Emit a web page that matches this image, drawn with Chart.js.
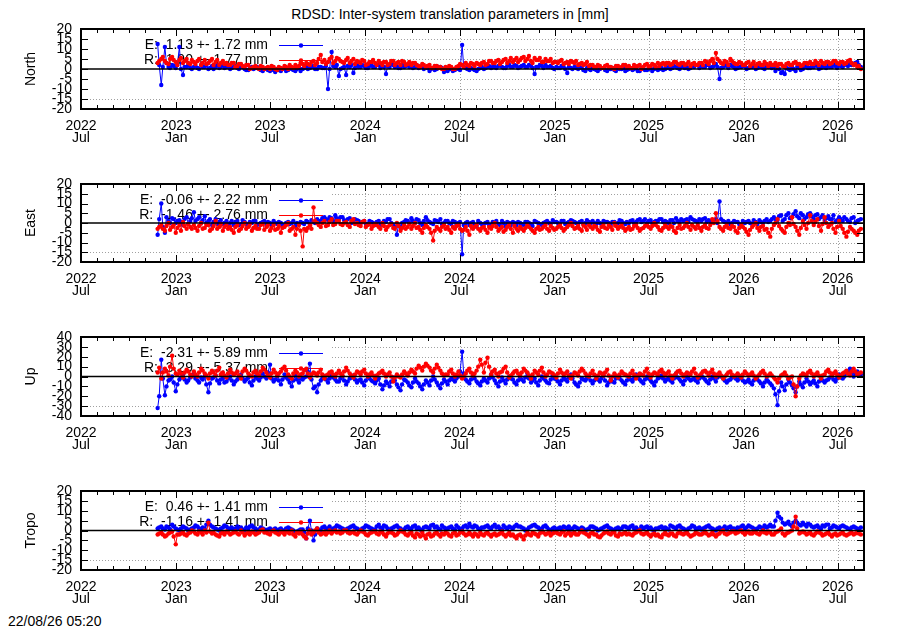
<!DOCTYPE html>
<html><head><meta charset="utf-8">
<script src="https://cdn.jsdelivr.net/npm/chart.js@4/dist/chart.umd.min.js"></script>
<style>
body{margin:0;background:#fff;width:900px;height:630px;position:relative;overflow:hidden;font-family:"Liberation Sans",Arial,sans-serif;color:#000;}
.panel{position:absolute;left:0;width:900px;}
#title{position:absolute;left:0;top:6px;width:900px;text-align:center;font-size:14px;line-height:16px;}
#stamp{position:absolute;left:8px;top:613px;font-size:14px;line-height:16px;}
</style></head><body>
<div id="title">RDSD: Inter-system translation parameters in [mm]</div>
<div class="panel" id="p0"><canvas id="c0"></canvas></div>
<div class="panel" id="p1"><canvas id="c1"></canvas></div>
<div class="panel" id="p2"><canvas id="c2"></canvas></div>
<div class="panel" id="p3"><canvas id="c3"></canvas></div>
<div id="stamp">22/08/26 05:20</div>
<script>
// x values: days since 2022-07-01 (weekly samples and in-between samples)
const days = [
148,155,162,169,176,183,190,197,204,211,
218,225,232,239,246,253,260,267,274,281,
288,295,302,309,316,323,330,337,344,351,
358,365,372,379,386,393,400,407,414,421,
428,435,442,449,456,463,470,477,484,491,
498,505,512,519,526,533,540,547,554,561,
568,575,582,589,596,603,610,617,624,631,
638,645,652,659,666,673,680,687,694,701,
708,715,722,729,736,743,750,757,764,771,
778,785,792,799,806,813,820,827,834,841,
848,855,862,869,876,883,890,897,904,911,
918,925,932,939,946,953,960,967,974,981,
988,995,1002,1009,1016,1023,1030,1037,1044,1051,
1058,1065,1072,1079,1086,1093,1100,1107,1114,1121,
1128,1135,1142,1149,1156,1163,1170,1177,1184,1191,
1198,1205,1212,1219,1226,1233,1240,1247,1254,1261,
1268,1275,1282,1289,1296,1303,1310,1317,1324,1331,
1338,1345,1352,1359,1366,1373,1380,1387,1394,1401,
1408,1415,1422,1429,1436,1443,1450,1457,1464,1471,
1478,1485,1492,1499,1506];
const daysMid = [
151,158,165,172,179,186,193,200,207,214,
221,228,235,242,249,256,263,270,277,284,
291,298,305,312,319,326,333,340,347,354,
361,368,375,382,389,396,403,410,417,424,
431,438,445,452,459,466,473,480,487,494,
501,508,515,522,529,536,543,550,557,564,
571,578,585,592,599,606,613,620,627,634,
641,648,655,662,669,676,683,690,697,704,
711,718,725,732,739,746,753,760,767,774,
781,788,795,802,809,816,823,830,837,844,
851,858,865,872,879,886,893,900,907,914,
921,928,935,942,949,956,963,970,977,984,
991,998,1005,1012,1019,1026,1033,1040,1047,1054,
1061,1068,1075,1082,1089,1096,1103,1110,1117,1124,
1131,1138,1145,1152,1159,1166,1173,1180,1187,1194,
1201,1208,1215,1222,1229,1236,1243,1250,1257,1264,
1271,1278,1285,1292,1299,1306,1313,1320,1327,1334,
1341,1348,1355,1362,1369,1376,1383,1390,1397,1404,
1411,1418,1425,1432,1439,1446,1453,1460,1467,1474,
1481,1488,1495,1502];

const northE = [
12.5,-8,11,1,2,0.5,11,-3,1,0.5,
1,0.5,2,1,0,1.5,1,0.5,2,1,
0,1,0.5,1.5,0,-0.5,1,0.5,0,-1,
0,-1,-0.5,0,-1,0.5,-0.5,0,-1,0.5,
0,1,0.5,1.5,0,1,0.5,-10,8.5,1,
-3.5,0.5,-3,1,-2,2,1,1.5,0.5,2,
1,2,1.5,-2.5,1,2,1.5,0.5,1,2,
1.5,1,0.5,1.5,1,-1,0.5,0,1,-1.5,
-1,0,-0.5,0,12,0.5,-0.5,0,-1,0.5,
0,1,0.5,1,1.5,1,0.5,2,1,1.5,
1,2,1,1.5,-2.5,1,1.5,2,1,0.5,
1,0.5,1,-2,0.5,1,0,0.5,-1,0,
0.5,-0.5,0,0.5,-1,0,-0.5,0.5,0,-1,
0,-0.5,0.5,-1,0,-0.5,0.5,0,-0.5,0.5,
0,1,0.5,1,0,1.5,1,0.5,1,2,
1.5,1,2,1,2.5,-5,1,1.5,2,1,
0.5,1,1.5,0.5,1,0,1,0.5,1.5,1,
1,0.5,-2,-2.5,0,1,-1,0.5,0,1,
0.5,1,1.5,0.5,1,2,1,1.5,2,1,
2.5,3,2,3.5,1];
const northEMid = [
2,1,3,0.5,1.5,2,0,1,2,0,
1.5,0,1,2,0.5,0,2,1,0.5,1.5,
0.5,1.5,0,1,-0.5,0.5,0,1,-0.5,0,
-0.5,0,-1.5,-0.5,0,-1,0.5,-0.5,0,-1,
0.5,0,1,0,1,0.5,1.5,0,1.5,2,
0,1,1.5,2,0.5,1,2,0.5,1.5,1,
2,0.5,1,1.5,2.5,1,0.5,2,1.5,1,
0.5,2,1,0,0.5,0,-0.5,1,0.5,-0.5,
0,-1,0.5,-0.5,1,0,0.5,-0.5,0,1,
0.5,1.5,1,0.5,2,0.5,1.5,1,2,0.5,
1.5,1,2,0.5,1,2,0.5,1,1.5,0,
0.5,1.5,0,1,0,0.5,1,-0.5,0.5,-0.5,
0,-1,0.5,-0.5,0,0.5,-1,0,0.5,-0.5,
0.5,0,-1,0.5,-0.5,0,-1,0.5,0,-0.5,
0.5,0,1.5,0.5,1,0.5,0,1.5,2,0.5,
1,2,0.5,1.5,1,0.5,2,0.5,1.5,0,
1,1.5,0,1,2,0.5,1.5,0,1,0.5,
-1,0,-1.5,0.5,-0.5,0,1,-0.5,1.5,0.5,
1,2,0,1.5,0.5,1,2.5,0.5,1.5,2,
1.5,2,3,2];
const northR = [
3,5,4,2.5,6,3.5,4.5,3,5,2.5,
3.5,4,2,4.5,3,5,3.5,2,4,3,
2,3,1.5,2.5,1,2,0.5,1.5,0,1,
0.5,0,1,-0.5,0.5,1.5,0,1,2,1.5,
2.5,3,2,4,3,7,4.5,3.5,6,4,
5,3.5,4.5,3,5,4,3,4,2.5,3.5,
3,4,2,3.5,2.5,4,3,2,3.5,2.5,
2,3,1.5,2.5,1,2,0.5,1.5,1,0,
0.5,1,0,1.5,2,3,1.5,2.5,3,2,
3.5,2.5,4,3,4.5,3.5,5,4,3.5,5.5,
4.5,6,5,4,5.5,4.5,3.5,5,4,3,
3.5,4,2.5,3.5,4,3,2,3,2.5,1.5,
2,1,1.5,0.5,2,1,0,1.5,1,2,
1.5,0.5,1,2,1,2.5,1.5,2,3,2.5,
2,3,2.5,3.5,2,3,2.5,1.5,3,2,
3,4,2.5,5,8,4,2.5,3.5,5,3,
2.5,3,2,3.5,2.5,1.5,3,2,2.5,3,
2,1.5,2.5,1,3,2,3.5,2.5,2,3,
3.5,2.5,3,4,2.5,3.5,3,4,2.5,3.5,
3,4.5,2,1,0];
const northRMid = [
4,6,3,5,4.5,2,5.5,4,3,4.5,
2.5,5,3,2.5,4,2,4.5,3,2.5,2,
3,1,2.5,1.5,2,0,1,0.5,1.5,0,
1,1.5,0,1,0,1,2,0.5,1,3,
1.5,2.5,3.5,2,5,3.5,2.5,5,3,5.5,
4,3,5.5,4,2.5,3.5,4.5,2,3.5,4.5,
2,3,3.5,2,4,2,3.5,4,2,3.5,
3,2,1,2,1.5,0.5,1.5,0.5,0,1,
1.5,0,1,2.5,1,2,3,1.5,2.5,3,
2,4,3,4,2.5,4.5,3,5.5,4.5,3.5,
5.5,4,6.5,3,4.5,5.5,3.5,4,5,3.5,
3,4.5,3,2.5,3.5,4,2.5,2,3.5,2,
1,2,0.5,1.5,1,0.5,1.5,0.5,2,1,
0.5,2,1.5,0,2,1,2.5,1,1.5,3,
3,2,3.5,2.5,3,2,3.5,2.5,2,3,
2,3.5,4,3,5,3,4,2,4,2.5,
3.5,2,3,1.5,3.5,2.5,2,3.5,1.5,2,
3,2.5,1.5,2.5,2,3,2.5,1.5,3,2.5,
2.5,4,2,3,3.5,2.5,4,3,3.5,2.5,
4,3,2.5,1.5];

const eastE = [
-6,10,-5,1,2.5,0,1.5,-1,3,1,
5.5,2,0,3.5,1,-1,2,0.5,-0.5,1,
0,-1,1,-0.5,0.5,-1.5,0,1,-0.5,0.5,
-1,0,1,-0.5,0,-1,0.5,0,-1.5,-0.5,
0,1,-1,0.5,2,1,3,1.5,2.5,4,
2,3,1,2.5,0.5,1.5,0,1,-0.5,0.5,
-1,1,0,0.5,2,-1,-6,-2,0.5,1,
2.5,0,1.5,-1,3,0.5,-0.5,1,2,0,
1,-0.5,0.5,0,-16,0,-1,0.5,-1.5,0,
-0.5,0.5,-1,0,-0.5,1,-1.5,0,0.5,-1,
0,-1,0.5,-0.5,1,0,-1,0.5,0,1.5,
0.5,-0.5,1,0,1.5,0.5,-0.5,1,0,0.5,
1,-0.5,0,1,0.5,-1,0.5,0,1,-0.5,
0,1.5,0.5,2,1,0,1.5,0.5,1,2,
1,0,1.5,2.5,0.5,1,2,3,1.5,0.5,
1,2.5,1.5,0.5,2,11,1,0,-0.5,1,
0.5,-1,0,1,-0.5,0.5,1.5,0,2,1,
3,1.5,4,2,5,3,6,2.5,4,3,
5,2,4.5,3,1.5,3.5,2,0.5,3,1,
2,0.5,3,1,2];
const eastEMid = [
2,-2,3,0,2,1,0.5,2,-0.5,2.5,
1,3,1.5,0,2,0.5,-0.5,1.5,0,-1,
1,0.5,-1,1.5,-0.5,0.5,1,-1,0,1,
0.5,-1,0,0.5,-1.5,0,-0.5,1,0,0.5,
-0.5,0.5,1.5,0,1,2.5,2,3,1,2.5,
3,1.5,2,0,2,1,0.5,-0.5,1,0,
0.5,-1,1,2,0,-2,-1,0,1.5,0,
1,2,0,1,1.5,0,1.5,0.5,-0.5,1,
0,1,-1,0.5,-1,0.5,0,-1,1,-0.5,
0,-1,0.5,1,-1,0,0.5,-1,0,0.5,
-0.5,0.5,0,-1.5,0.5,-0.5,0,1,-0.5,0.5,
0,1,-0.5,0.5,1,0,0.5,-0.5,1.5,0,
0,1,-0.5,0.5,0,0.5,-0.5,1.5,0,0.5,
1,0,1.5,0.5,2,1,0,1,2,0.5,
0.5,1.5,0,1,2,1.5,0.5,2,1,2,
2,0.5,1,1.5,0,2,0.5,1,0,0.5,
-0.5,1,0.5,0,1.5,-0.5,0.5,1,0.5,2,
2,3.5,1,4,2.5,4.5,3.5,5,2,4.5,
3.5,4,2,4,2.5,2,4,1.5,2,3,
1,2.5,0,1.5];
const eastR = [
-3,-1,-4,0,-2,-5,-1,0.5,-3,-2,
-1,-4,0,-2.5,-1,-3,1,-2,-4,-1,
-2,-5,-1,-3,0,-2,-4,-1.5,-3,-0.5,
-2,-4,-1,-3,-5,-2,0,-3,-6,-1,
-12,-4,-1,8,0,-2,1,-1,2,-0.5,
1,-1,0.5,-2,2,0,-1.5,1,-1,-3,
-0.5,-2,0,-3.5,-1,-2.5,0,-4,-1,-2,
-3,0,-2,-5,-1,-3,-9,-2,-4,-1,
-2,-5,-3,-1,-4,-2,-6,-3,-1,-4,
-2,-5,-3,0,-4,-2,-3.5,-1,-5,-3,
-2,-4,-1,-3,-5,-2,-3,-1,-4,-2.5,
-3,-1,-4,-2,0,-3,-1.5,-4,-2,-1,
-3,-2,-4.5,-1,-3,-2,0,-3,-1,-4,
-2,-3,-1,-4,-2.5,-1,-3,0,-2,-4,
-1,-3,-2,-5,-1,-2.5,0,-3.5,-2,-1,
-4,-1,-3,2,5,-2,-4,-1,-3,-2,
-5,-1,-3,-6,-2,0,-4,-1.5,-3,-7,
-1,2,-3,-5,0,3,-2,-6,1,-3,
4,-1,2,-4,3,-2,0,-5,1,-3,
-7,-2,-4,-6,-3];
const eastRMid = [
-2,-3,-1.5,-3.5,-1,-2.5,-4,-1.5,-0.5,-3,
-2.5,-1.5,-3,-1,-4,-1.5,-3,-0.5,-2,-3,
-3.5,-2,-4,-1.5,-3,-0.5,-2.5,-3,-1,-3.5,
-1,-2.5,-3.5,-1.5,-2.5,-1,-4,-2,-3,-4,
-3,-2.5,-3,1,-1,0,-1.5,0.5,-1,1,
-0.5,0,-1,1,-0.5,-1,0.5,-2,-0.5,-1.5,
-1,-3,-1.5,-2,-0.5,-3,-1.5,-2.5,-3,-0.5,
-1.5,-2.5,-3.5,-2.5,-2,-5,-4,-3,-2,-3,
-3.5,-2,-1.5,-3,-3.5,-4,-1.5,-2,-3,-2.5,
-3.5,-2,-1.5,-2,-3,-4.5,-2,-3,-1.5,-4,
-3,-2.5,-2,-4,-3,-3.5,-2,-3,-1.5,-3.5,
-2,-2.5,-3,-1,-1.5,-2.5,-3,-1,-3.5,-2,
-1.5,-3.5,-2,-2.5,-1,-3.5,-1.5,-2,-2.5,-3,
-3.5,-1.5,-2.5,-3,-1.5,-2,-1.5,-1,-3.5,-2.5,
-2,-1.5,-4,-2.5,-3,-1.5,-2,-1,-3,-2.5,
-2,-2.5,-1,0,1,-3,-2,-2.5,-1.5,-4,
-2.5,-2,-4.5,-3.5,-1,-2.5,-2,-3.5,-5,-3,
0,-1.5,-4,-2,-1,-0.5,-4,-2.5,-1,0,
1,0.5,-1.5,-0.5,0,-1,-3,-2,-1.5,-5,
-4.5,-3,-5,-4];

const upE = [
-32,17,-19,-4,0,-15,-3,2,-6,-1,
3,-4,-1,0,-16,-2,1,-7,-2,-5,
0,-8,-3,2,-5,-1,-9,0,-4,3,
-2,12,-5,0,-8,2,-3,-10,1,-6,
-3,0,13,-12,-16,-4,0,-6,2,-3,
-5,0,-8,-2,1,-6,-3,-9,0,-4,
-7,-2,-13,-5,-10,-1,-8,-14,-3,-6,
-11,-2,-7,-13,-4,-9,0,-6,-12,-3,
-8,-2,-5,0,25,-3,-7,1,-5,-9,
-2,-6,2,-4,-10,-1,-7,0,-3,-8,
-1,-5,3,-6,-2,-9,0,-4,-7,1,
-3,-8,-1,-5,2,-6,-10,-2,-4,0,
-7,-2,-5,1,-9,-3,-6,0,-4,-8,
-1,-5,2,-3,-7,0,-4,-9,-2,1,
-5,-1,-6,3,-3,-8,0,-4,-2,-6,
1,-3,-7,0,-5,2,-2,-6,-3,0,
-4,-1,-6,-3,-8,-2,-5,-10,-3,-7,
-12,-29,-6,-14,-3,-9,-16,-5,-11,-2,
-8,-4,-10,-1,-6,-3,0,-5,2,-2,
3,8,0,5,2];
const upEMid = [
-20,-2,-10,-3,-6,-8,-1,-3,-4,1,
-2,-6,-3,-8,-7,-1,-4,-3,-6,-2,
-4,-5,-1,-2,-3,-6,-4,-2,-1,0,
4,-2,-3,-4,-3,-1,-6,-4,-3,-2,
-1,5,-3,-10,-8,-2,-3,-2,-1,-5,
-2,-4,-5,-1,-3,-4,-6,-4,-2,-5,
-4,-8,-9,-7,-5,-4,-11,-8,-4,-9,
-6,-5,-10,-8,-6,-4,-3,-9,-7,-5,
-4,-3,-2,5,3,-5,-3,-2,-7,-5,
-4,-2,-1,-7,-5,-4,-3,-2,-6,-4,
-3,-1,-2,-4,-6,-4,-2,-6,-3,-2,
-5,-4,-3,-1,-2,-8,-6,-3,-2,-4,
-4,-3,-2,-4,-6,-5,-2,-2,-6,-4,
-3,-2,-1,-5,-3,-2,-6,-5,-1,-2,
-3,-4,-2,-1,-5,-4,-2,-3,-4,-2,
-1,-5,-3,-2,-1,0,-4,-4,-1,-2,
-2,-4,-5,-6,-4,-3,-7,-6,-5,-9,
-18,-15,-10,-8,-6,-12,-10,-8,-6,-5,
-6,-7,-5,-4,-4,-1,-3,-2,-1,0,
5,4,3,1];
const upR = [
4,-2,8,1,21,3,6,-1,7,2,
5,0,8,3,-2,6,1,9,4,-1,
7,2,5,-2,8,3,0,6,1,9,
4,-1,7,1,5,10,2,-2,6,0,
3,8,-1,4,1,7,-2,2,5,0,
6,1,9,3,-1,5,2,7,0,4,
-2,3,6,0,4,-5,2,-1,5,1,
7,3,11,6,13,9,4,12,6,1,
2,7,0,5,-2,3,8,1,6,17,
4,19,2,7,0,5,10,-1,3,6,
1,8,4,-2,6,2,9,0,5,3,
-1,7,2,5,-2,4,1,8,3,0,
6,-2,4,1,7,-4,3,-1,5,2,
0,6,-2,3,1,8,-1,4,2,7,
1,5,-2,3,6,0,4,2,8,-1,
3,6,1,7,0,4,-2,2,5,0,
3,-1,5,1,4,-2,2,6,0,3,
-1,-6,1,4,-2,0,-20,-2,3,1,
6,0,4,-2,2,7,1,5,-1,3,
6,1,8,2,4];
const upRMid = [
9,4,5,10,8,2,3,4,5,0,
2,4,6,1,3,4,6,2,1,3,
4,3,1,5,6,1,4,3,5,7,
1,3,4,3,8,6,0,3,4,2,
6,3,2,3,4,2,1,4,2,3,
3,5,6,1,2,4,5,3,2,1,
1,4,3,2,0,-1,0,2,3,4,
5,8,9,10,11,6,8,9,3,2,
5,3,2,1,0,6,4,3,10,12,
14,10,5,3,4,8,4,1,5,3,
4,6,1,2,4,6,4,2,4,1,
3,4,3,1,1,3,5,6,1,3,
2,1,3,4,1,0,1,2,3,1,
3,2,1,2,5,3,2,3,5,4,
3,1,1,5,3,2,3,5,3,1,
5,4,4,3,2,1,0,4,2,1,
1,2,3,2,1,0,4,3,1,1,
-3,-2,2,1,-1,-8,-10,1,2,4,
3,2,1,1,5,4,3,2,1,4,
3,5,5,3];

const tropoE = [
1,2,0.5,1.5,3,1,0,2,1,0.5,
1.5,2,0.5,1,5,2,1,0,1.5,2,
1,0.5,2,1.5,0,1,2.5,1,0.5,1,
0,1,0.5,-0.5,1,0,1.5,0.5,-1,0,
0.5,-4,5,-5,1,0,2,1,0.5,1.5,
2,1,0.5,1.5,2.5,1,0,1.5,2,1,
0.5,3,1,2,0,1.5,2.5,1,0.5,2,
1,2.5,1.5,0,2,1,3,2,0.5,1.5,
1,2,0.5,1.5,1,2.5,3.5,1.5,2,0.5,
1.5,2.5,1,3,2,0.5,1.5,2,1,3,
2,1,0.5,2,3,1.5,1,2.5,0.5,1,
0,1.5,2,1,0.5,2,1,1.5,0,1,
2,1,0.5,1.5,2.5,1,0,1.5,1,2,
1,2.5,1.5,0.5,1,2,1.5,0,1,2,
1.5,0.5,2,1,2.5,1,0,1.5,2,1,
0.5,1.5,2.5,1,0,1.5,1,0.5,2,1,
1.5,2,1,2.5,1.5,0.5,2,1,1.5,3,
2,9,6,3,4.5,2,5,3,4,2,
3,1.5,2.5,1,2,3,1.5,2,1,2.5,
1.5,0.5,2,1,1.5];
const tropoEMid = [
1.5,1,2,0.5,2,0.5,1,1.5,0,1,
2.5,1,1.5,3,3,1.5,0.5,1,2.5,1,
1.5,1,1,0.5,1.5,2,1.5,0,1.5,0.5,
0.5,0,1,0.5,0,1,1,0,-0.5,0.5,
-1,1,0,-2,0.5,1.5,1,2,1,2.5,
1.5,0.5,1,2,1.5,0.5,1,2.5,1.5,0.5,
2,1.5,2.5,1,1,2,1.5,0,1.5,1,
2,1,0.5,1.5,1.5,2.5,1.5,1,2.5,1,
1.5,1,2.5,0.5,2,1.5,2,2.5,1,1.5,
2,1.5,2,1.5,1,2.5,1,1.5,2,2,
1.5,0,1.5,2.5,2,0.5,2,1.5,0,1.5,
1,0.5,1.5,2,1,1.5,0.5,1,0.5,2,
1.5,0,1,2,1.5,0.5,1,0.5,2,1.5,
2,1,0.5,2,1.5,1,0.5,1,1.5,1,
1,2.5,1.5,2,1.5,0.5,1,2.5,1,1.5,
1,2,1.5,0.5,1,0.5,2,1.5,1,0.5,
1,2.5,1.5,2,1,1,1.5,2.5,2,2,
5,7,4,3.5,3,4,4,2.5,3,3.5,
2,2,1.5,2.5,3,1,2.5,1.5,2,2,
1,1.5,1.5,0.5];
const tropoR = [
-2,-1,-3,-1.5,-0.5,-7,-2,-1,-2.5,-1,
-0.5,-2,-1,0,4,-1.5,-2,-3,-1,-0.5,
-2,-1,-1.5,0,-2.5,-1,-0.5,-2,-1,0.5,
-1,-2,0,-1.5,-0.5,-2,-1,0,-3,-1.5,
-2,-4,0,-1,1,-2,-0.5,-1,-1.5,0,
-0.5,-1,0,-1.5,-0.5,-2,0,-1,-2.5,-1,
-0.5,-2,-1,-3,-0.5,-1.5,-2,0,-1,-2.5,
-1,-3.5,-2,-1,-4,-1.5,-2.5,-1,-3,-2,
-1.5,-3,-1,-2,-0.5,-2.5,-1,-3,-2,-1,
-2.5,-1,-3,-1.5,-2,-0.5,-3,-1,-2,-4,
-2,-4.5,-1,-2.5,-1.5,-3,-0.5,-2,-1,-1.5,
-1,-2,-0.5,-1.5,-2.5,-1,-2,0,-1.5,-3,
-1,-2,-3.5,-1.5,-0.5,-2,-1,-3,-2,-1,
-1.5,-2.5,-1,0,-2,-1,-3,-1.5,-2,-3.5,
-1,-2.5,-1.5,-3,-0.5,-2,-1,-3,-2,-1.5,
-2,-0.5,-2.5,-1,-3,-1.5,0,-2,-1,-0.5,
-1,0,-2,-0.5,-1.5,-1,-2,0,-1.5,-1,
-2,-0.5,1,-2.5,-1,0,7,-1.5,-0.5,-2,
-1,-2.5,-0.5,-1.5,-2,-1,-3,-1.5,-2,-1,
-2.5,-1.5,-2,-1,-2];
const tropoRMid = [
-1.5,-2,-2.5,-1,-3,-2,-1.5,-2,-1.5,0,
-1.5,-0.5,-2,-1,-0.5,-1,-2.5,-1.5,-2,-1,
-1.5,-0.5,-2,-1,-1.5,-2,-1,-1.5,0,-1,
-1.5,-0.5,-1,-2,-1,-0.5,-1.5,-2,-1,-0.5,
-3,-1.5,-2,0,-1,-1.5,-2,0,-0.5,-1,
-1.5,0,-1,-1,-1.5,-1,-0.5,-2,-1.5,-0.5,
-1.5,-0.5,-2,-1.5,-1,-2.5,-1,-0.5,-2,-1.5,
-2.5,-1.5,-3,-2.5,-2,-3,-1.5,-2,-1.5,-1,
-2.5,-1.5,-2.5,-1,-1.5,-2,-2,-1.5,-3,-2,
-1.5,-2,-2,-2.5,-1.5,-2,-2,-2.5,-3,-2.5,
-3,-2.5,-2,-1,-2,-1.5,-1,-1.5,-2.5,-1,
-1.5,-1,-2.5,-1,-1.5,-2,-1,-1,-2,-1.5,
-2,-3,-2.5,-1,-1.5,-1,-2.5,-1.5,-1.5,-2,
-2,-1.5,-0.5,-1.5,-1.5,-2,-2,-2.5,-3,-2,
-2,-1.5,-2.5,-1.5,-1.5,-1.5,-2,-2.5,-1,-2,
-1.5,-1.5,-2,-2,-2,-0.5,-1.5,-1.5,-0.5,-1.5,
-0.5,-1,-1,-1.5,-0.5,-1.5,-1,-1,-0.5,-2,
-1,0,-1.5,-1.5,-0.5,2,1,-1,-1,-1.5,
-2,-1.5,-1,-2.5,-1.5,-2,-2,-2.5,-1.5,-2,
-2,-1,-1.5,-1.5];

const northKey = ['E:  1.13 +- 1.72 mm', 'R:  1.90 +- 1.77 mm'];
const eastKey  = ['E:  -0.06 +- 2.22 mm', 'R:  -1.46 +- 2.76 mm'];
const upKey    = ['E:  -2.31 +- 5.89 mm', 'R:  3.29 +- 5.37 mm'];
const tropoKey = ['E:  0.46 +- 1.41 mm', 'R:  -1.16 +- 1.41 mm'];

const majorDays  = [0,184,365,549,731,915,1096,1280,1461];
const tickYears  = ['2022','2023','2023','2024','2024','2025','2025','2026','2026'];
const tickMonths = ['Jul','Jan','Jul','Jan','Jul','Jan','Jul','Jan','Jul'];
const xMax = 1512;

const FONT = '"Liberation Sans", Arial, Helvetica, sans-serif';
Chart.defaults.font.family = FONT;
Chart.defaults.color = '#000';

// monthly minor ticks
const base = Date.UTC(2022,6,1);
const minorDays = [];
for (let m = 0; m < 60; m++) {
  const d = Math.round((Date.UTC(2022,6+m,1) - base) / 86400000);
  if (d > xMax) break;
  minorDays.push(d);
}

const panels = [
  {name:'North', top:29,  bottom:109, min:-20, max:20, step:5,  e:northE, em:northEMid, r:northR, rm:northRMid, key:northKey},
  {name:'East',  top:184, bottom:262, min:-20, max:20, step:5,  e:eastE,  em:eastEMid,  r:eastR,  rm:eastRMid,  key:eastKey},
  {name:'Up',    top:337, bottom:416, min:-40, max:40, step:10, e:upE,    em:upEMid,    r:upR,    rm:upRMid,    key:upKey},
  {name:'Tropo', top:491, bottom:570, min:-20, max:20, step:5,  e:tropoE, em:tropoEMid, r:tropoR, rm:tropoRMid, key:tropoKey}
];

function gpPlugin(p) {
  return {
    id: 'gp' + p.name,
    beforeDatasetsDraw(chart) {
      const ctx = chart.ctx, a = chart.chartArea, x = chart.scales.x, y = chart.scales.y;
      const keyRight = 332, keyBottom = a.top + 65;
      ctx.save();
      ctx.strokeStyle = '#a0a0a0'; ctx.lineWidth = 1; ctx.setLineDash([1,2]);
      for (let v = p.min + p.step; v < p.max; v += p.step) {
        if (v === 0) continue;
        const py = Math.round(y.getPixelForValue(v)) + 0.5;
        const x0 = py < keyBottom ? keyRight : a.left;
        ctx.beginPath(); ctx.moveTo(x0, py); ctx.lineTo(a.right, py); ctx.stroke();
      }
      majorDays.forEach(d => {
        const px = Math.round(x.getPixelForValue(d)) + 0.5;
        if (px <= keyRight || px >= a.right - 1) return;
        ctx.beginPath(); ctx.moveTo(px, a.top); ctx.lineTo(px, a.bottom); ctx.stroke();
      });
      ctx.setLineDash([]);
      // key
      ctx.font = '14px ' + FONT;
      ctx.textAlign = 'right'; ctx.textBaseline = 'middle';
      const cols = ['#0000ff', '#ff0000'];
      p.key.forEach((t, i) => {
        const ky = a.top + 16 + 15 * i;
        ctx.fillStyle = '#000'; ctx.fillText(t, 268, ky);
        ctx.strokeStyle = cols[i]; ctx.lineWidth = 1;
        ctx.beginPath(); ctx.moveTo(279, ky + 0.5); ctx.lineTo(323, ky + 0.5); ctx.stroke();
        ctx.fillStyle = cols[i];
        ctx.beginPath(); ctx.arc(301, ky + 0.5, 2.2, 0, 2 * Math.PI); ctx.fill();
      });
      // y axis title
      ctx.fillStyle = '#000'; ctx.textAlign = 'center';
      ctx.translate(31, (a.top + a.bottom) / 2); ctx.rotate(-Math.PI / 2);
      ctx.fillText(p.name, 0, 0);
      ctx.restore();
    },
    afterDatasetsDraw(chart) {
      const ctx = chart.ctx, a = chart.chartArea, x = chart.scales.x, y = chart.scales.y;
      ctx.save();
      ctx.strokeStyle = '#000';
      ctx.lineWidth = 1.5;
      const y0 = y.getPixelForValue(0);
      ctx.beginPath(); ctx.moveTo(a.left, y0); ctx.lineTo(a.right, y0); ctx.stroke();
      ctx.lineWidth = 1;
      minorDays.forEach(d => {
        const px = Math.round(x.getPixelForValue(d)) + 0.5;
        const len = majorDays.includes(d) ? 7 : 4;
        ctx.beginPath();
        ctx.moveTo(px, a.bottom); ctx.lineTo(px, a.bottom - len);
        ctx.moveTo(px, a.top); ctx.lineTo(px, a.top + len);
        ctx.stroke();
      });
      for (let v = p.min; v <= p.max; v += p.step) {
        const py = Math.round(y.getPixelForValue(v)) + 0.5;
        ctx.beginPath();
        ctx.moveTo(a.left, py); ctx.lineTo(a.left + 7, py);
        ctx.moveTo(a.right, py); ctx.lineTo(a.right - 7, py);
        ctx.stroke();
      }
      ctx.lineWidth = 2;
      ctx.strokeRect(a.left, a.top, a.right - a.left, a.bottom - a.top);
      ctx.restore();
    }
  };
}

// merge weekly and in-between samples into one time-ordered table
function merge(v1, v2) {
  return days.map((d, i) => ({x: d, y: v1[i]}))
    .concat(daysMid.map((d, i) => ({x: d, y: v2[i]})))
    .sort((a, b) => a.x - b.x);
}

panels.forEach((p, k) => {
  const padTop = 10, xAxisH = 42;
  const h = (p.bottom - p.top) + padTop + xAxisH;
  const div = document.getElementById('p' + k);
  div.style.top = (p.top - padTop) + 'px';
  div.style.height = h + 'px';
  const cv = document.getElementById('c' + k);
  cv.style.width = '900px'; cv.style.height = h + 'px';
  cv.width = 900; cv.height = h;
  new Chart(cv, {
    type: 'line',
    data: {
      datasets: [
        {label:'E', data: merge(p.e, p.em), order: 2, borderColor:'#0000ff', backgroundColor:'#0000ff',
         borderWidth:1, pointRadius:2.2, pointBorderWidth:0, pointBackgroundColor:'#0000ff', tension:0},
        {label:'R', data: merge(p.r, p.rm), order: 1, borderColor:'#ff0000', backgroundColor:'#ff0000',
         borderWidth:1, pointRadius:2.2, pointBorderWidth:0, pointBackgroundColor:'#ff0000', tension:0}
      ]
    },
    options: {
      responsive: false, animation: false,
      layout: {padding: {top: padTop, right: 36, left: 0, bottom: 0}},
      plugins: {legend: {display:false}, tooltip: {enabled:false}, title: {display:false}},
      scales: {
        x: {
          type: 'linear', position: 'bottom', min: 0, max: xMax,
          grid: {display:false, drawTicks:false}, border: {display:false},
          afterBuildTicks: s => { s.ticks = majorDays.map(v => ({value: v})); },
          afterFit: s => { s.height = xAxisH; s.paddingLeft = 0; s.paddingRight = 0; s.paddingTop = 0; s.paddingBottom = 0; },
          ticks: {
            autoSkip: false, maxRotation: 0, minRotation: 0, padding: 11,
            font: {size: 14, lineHeight: 0.86}, color: '#000',
            callback: v => { const i = majorDays.indexOf(v); return i < 0 ? '' : [tickYears[i], tickMonths[i]]; }
          }
        },
        y: {
          min: p.min, max: p.max,
          grid: {display:false, drawTicks:false}, border: {display:false},
          afterFit: s => { s.width = 81; s.paddingTop = 0; s.paddingBottom = 0; s.paddingLeft = 0; s.paddingRight = 0; },
          ticks: {stepSize: p.step, autoSkip: false, padding: 9, font: {size: 14}, color: '#000'}
        }
      }
    },
    plugins: [gpPlugin(p)]
  });
});
</script>
</body></html>
